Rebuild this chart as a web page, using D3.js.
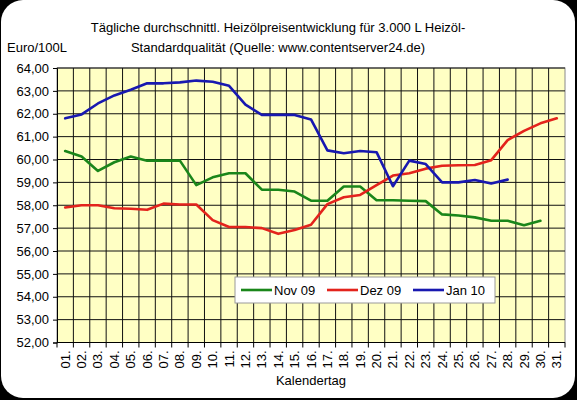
<!DOCTYPE html>
<html>
<head>
<meta charset="utf-8">
<script src="https://cdn.jsdelivr.net/npm/d3@7"></script>
<style>
  body { margin: 0; background: #000; }
  svg { display: block; font-family: "Liberation Sans", Arial, sans-serif; }
</style>
</head>
<body>
<div id="chart"></div>
<script>
(function(){

var width = 577,
	height = 400;

// data
var days = ["01","02","03","04","05","06","07","08","09","10","11","12","13","14","15","16",
	"17","18","19","20","21","22","23","24","25","26","27","28","29","30","31"];
var yTicks = [52,53,54,55,56,57,58,59,60,61,62,63,64];

var nov09 = [60.37,60.13,59.50,59.88,60.13,59.95,59.95,59.95,58.88,59.22,59.40,59.40,58.68,58.68,58.60,
	58.20,58.20,58.82,58.82,58.22,58.22,58.20,58.18,57.60,57.55,57.47,57.32,57.32,57.13,57.32];
var dez09 = [57.90,58.00,58.00,57.87,57.85,57.80,58.07,58.03,58.03,57.35,57.05,57.05,57.00,56.75,56.92,
	57.15,58.05,58.35,58.45,58.88,59.30,59.40,59.60,59.73,59.75,59.76,59.97,60.85,61.25,61.58,61.80];
var jan10 = [61.80,61.97,62.45,62.80,63.05,63.33,63.33,63.37,63.45,63.40,63.22,62.40,61.95,61.95,61.95,
	61.75,60.40,60.27,60.37,60.32,58.83,59.95,59.80,59.00,59.00,59.10,58.95,59.12];

var seriesNames = ["Nov 09","Dez 09","Jan 10"];
var seriesColors = ["#1a861a","#e3231c","#1818b0"];
var series = [nov09, dez09, jan10];

var plot = {left: 57, right: 565, top: 68, bottom: 342.5};

var svg = d3.select("#chart")
	.append("svg")
	.attr("width", width)
	.attr("height", height)

// rounded white card on black
svg.append("rect")
	.attr("width", width).attr("height", height)
	.attr("fill", "#000")
svg.append("rect")
	.attr("x", 1).attr("y", 0)
	.attr("width", width - 3).attr("height", height - 2)
	.attr("rx", 22).attr("ry", 22)
	.attr("fill", "#fff")

var x = d3.scaleBand()
	.domain(days)
	.range([plot.left, plot.right])
	.padding(0)

var y = d3.scaleLinear()
	.domain([52, 64])
	.range([plot.bottom, plot.top])

// plot background
svg.append("rect")
	.attr("x", plot.left).attr("y", plot.top)
	.attr("width", plot.right - plot.left)
	.attr("height", plot.bottom - plot.top)
	.attr("fill", "#ffffc4")
	.attr("stroke", "#8a8a8a")
	.attr("stroke-width", 1)

// vertical grid at band edges
var edges = days.map(function(d){ return x(d); }).concat([plot.right]);
svg.append("g")
	.selectAll("line")
	.data(edges.slice(1, -1))
	.enter()
	.append("line")
	.attr("x1", function(d){ return d; })
	.attr("x2", function(d){ return d; })
	.attr("y1", plot.top)
	.attr("y2", plot.bottom)
	.attr("stroke", "#111")
	.attr("stroke-width", 1)

// horizontal grid
svg.append("g")
	.selectAll("line")
	.data(yTicks.slice(1))
	.enter()
	.append("line")
	.attr("x1", plot.left)
	.attr("x2", plot.right)
	.attr("y1", function(d){ return y(d); })
	.attr("y2", function(d){ return y(d); })
	.attr("stroke", "#111")
	.attr("stroke-width", 1)

// y axis
var yAxis = svg.append("g")
	.attr("transform", "translate(" + plot.left + ",0)")
	.call(d3.axisLeft(y)
		.tickValues(yTicks)
		.tickSize(4)
		.tickPadding(4)
		.tickFormat(function(d){ return d3.format(".2f")(d).replace(".", ","); }))
yAxis.select(".domain").attr("stroke", "#000")
yAxis.selectAll("line").attr("stroke", "#000")
yAxis.selectAll("text")
	.attr("font-size", 13)
	.attr("fill", "#000")
	.attr("font-family", "Liberation Sans, Arial, sans-serif")

// x axis: ticks on band edges, labels at centres
var xAxis = svg.append("g")
	.attr("transform", "translate(0," + plot.bottom + ")")
xAxis.append("line")
	.attr("x1", plot.left).attr("x2", plot.right)
	.attr("stroke", "#000")
xAxis.selectAll(".tick")
	.data(edges)
	.enter()
	.append("line")
	.attr("x1", function(d){ return d; })
	.attr("x2", function(d){ return d; })
	.attr("y1", 0).attr("y2", 5)
	.attr("stroke", "#000")
xAxis.selectAll("text")
	.data(days)
	.enter()
	.append("text")
	.attr("transform", function(d){
		return "translate(" + (x(d) + x.bandwidth()/2 + 4.5) + ",8) rotate(-90)";
	})
	.attr("text-anchor", "end")
	.attr("font-size", 13)
	.text(function(d){ return d + "."; })

// lines
var line = d3.line()
	.x(function(d, i){ return x(days[i]) + x.bandwidth()/2; })
	.y(function(d){ return y(d); })

svg.append("g")
	.selectAll("path")
	.data(series)
	.enter()
	.append("path")
	.attr("d", line)
	.attr("fill", "none")
	.attr("stroke", function(d, i){ return seriesColors[i]; })
	.attr("stroke-width", 2.6)
	.attr("stroke-linejoin", "round")
	.attr("stroke-linecap", "round")

// legend
var legend = svg.append("g")
	.attr("transform", "translate(235,277)")
legend.append("rect")
	.attr("width", 260).attr("height", 26)
	.attr("fill", "#fff")
	.attr("stroke", "#9a9a9a")
var item = legend.selectAll(".item")
	.data(seriesNames)
	.enter()
	.append("g")
	.attr("transform", function(d, i){ return "translate(" + (6 + i*86) + ",13)"; })
item.append("line")
	.attr("x1", 0).attr("x2", 31)
	.attr("stroke", function(d, i){ return seriesColors[i]; })
	.attr("stroke-width", 2.6)
item.append("text")
	.attr("x", 33).attr("y", 5)
	.attr("font-size", 13)
	.text(function(d){ return d; })

// titles
svg.append("text")
	.attr("x", 278).attr("y", 32)
	.attr("text-anchor", "middle")
	.attr("font-size", 13)
	.text("Tägliche durchschnittl. Heizölpreisentwicklung für 3.000 L Heizöl-")
svg.append("text")
	.attr("x", 278).attr("y", 52)
	.attr("text-anchor", "middle")
	.attr("font-size", 13)
	.text("Standardqualität (Quelle: www.contentserver24.de)")
svg.append("text")
	.attr("x", 7).attr("y", 52)
	.attr("font-size", 13)
	.text("Euro/100L")
svg.append("text")
	.attr("x", 311).attr("y", 385)
	.attr("text-anchor", "middle")
	.attr("font-size", 13)
	.text("Kalendertag")

})();
</script>
</body>
</html>
